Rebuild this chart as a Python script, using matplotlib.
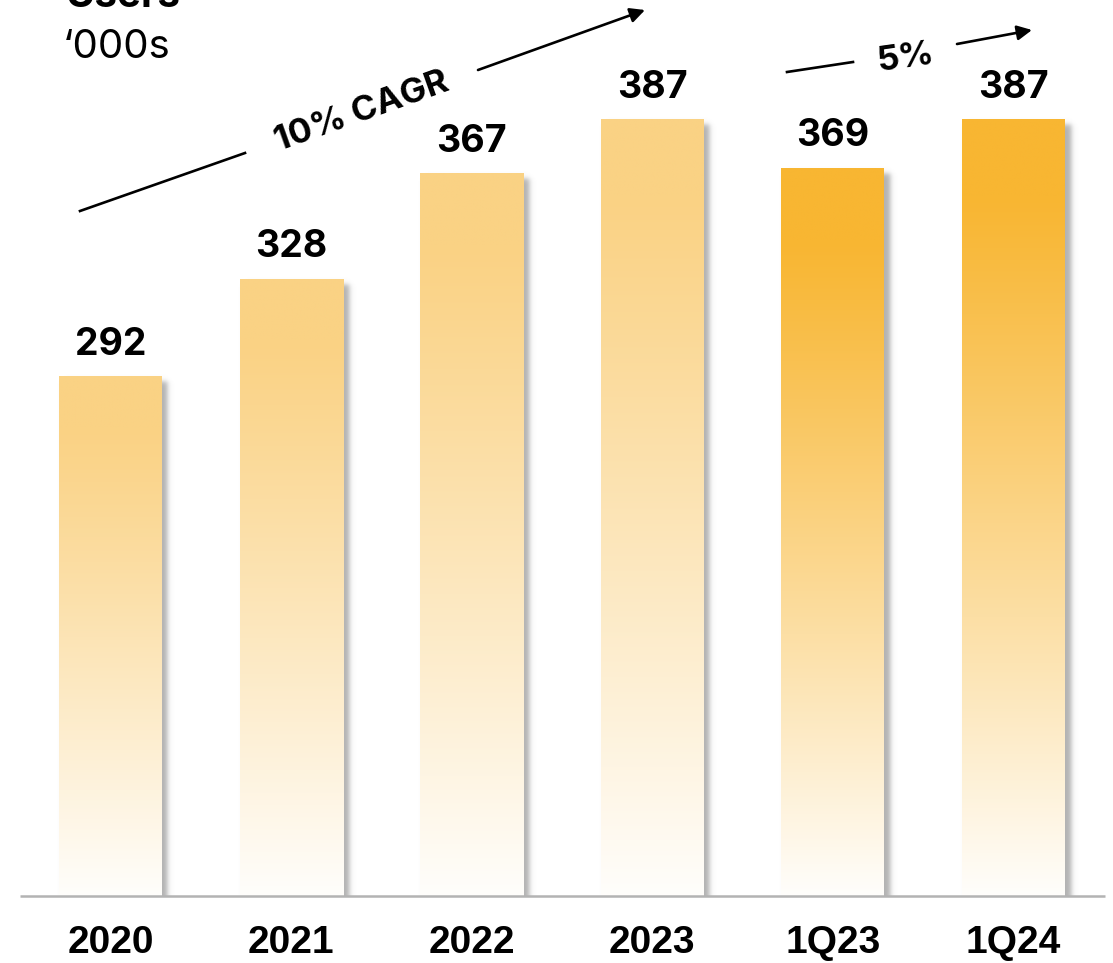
import numpy as np
import matplotlib
matplotlib.use("Agg")
import matplotlib.pyplot as plt
from matplotlib.colors import to_rgb

# Users, in thousands
categories = ["2020", "2021", "2022", "2023", "1Q23", "1Q24"]
values = [292, 328, 367, 387, 369, 387]
is_quarter = [False, False, False, False, True, True]
cagr_label = "10% CAGR"
qoq_label = "5%"

W, H, DPI = 1113, 963, 100
fig = plt.figure(figsize=(W / DPI, H / DPI), dpi=DPI)
fig.patch.set_facecolor("white")

SANS = ["Inter", "Liberation Sans", "DejaVu Sans"]

# axes layout (pixels): baseline at y=896, bar pitch ~180.6 px
base_px = 896
pitch = 180.6
first_center = 110.5
ax = fig.add_axes([0, (H - base_px) / H, 1, base_px / H])
px_per_unit = 2.705
y0 = 100
ax.set_xlim(-first_center / pitch, (W - first_center) / pitch)
ax.set_ylim(y0, y0 + base_px / px_per_unit)
ax.axis("off")

bar_w = 103 / pitch
dx = 1 / pitch          # one pixel in x data units
dy = 1 / px_per_unit    # one pixel in y data units

year_top = np.array(to_rgb("#FAD284"))
quarter_top = np.array(to_rgb("#F8B632"))
bottom_col = np.array([1.0, 0.995, 0.985])


def smooth_step(t):
    return 0.5 * (1 + np.tanh(t))


for i, (v, q) in enumerate(zip(values, is_quarter)):
    x0, x1 = i - bar_w / 2, i + bar_w / 2

    # soft drop shadow to the right / below
    pad = 18
    nx, ny = int(103 + 2 * pad), int((v - y0) / dy + 2 * pad)
    xs = np.arange(nx) - pad
    ys = np.arange(ny) - pad  # from top of bar downward
    off, s = 5, 3.0
    ax_x = smooth_step((xs - off) / s) * smooth_step((103 + off - xs) / s)
    bar_h = (v - y0) / dy
    ax_y = smooth_step((ys - off) / s) * smooth_step((bar_h + 3 - ys) / 2.0)
    alpha = np.outer(ax_y, ax_x) * 0.55
    shadow = np.zeros((ny, nx, 4))
    shadow[..., :3] = 0.45
    shadow[..., 3] = alpha
    ax.imshow(shadow, extent=(x0 - pad * dx, x0 + (nx - pad) * dx,
                              v - (ny - pad) * dy, v + pad * dy),
              origin="upper", aspect="auto", zorder=1, interpolation="bilinear")

    # vertical gradient fill
    top = quarter_top if q else year_top
    t = np.linspace(0, 1, 256)
    f = np.clip((t - 0.1) / 0.9, 0, 1) ** 1.1
    cols = top[None, :] * (1 - f[:, None]) + bottom_col[None, :] * f[:, None]
    grad = cols[:, None, :]
    ax.imshow(grad, extent=(x0, x1, y0, v), origin="upper", aspect="auto",
              zorder=2, interpolation="bilinear")

    # value label
    ax.annotate(f"{v}", xy=(i, v), xytext=(0, 23), textcoords="offset points",
                ha="center", va="center", fontsize=27, fontweight="bold",
                family=SANS, zorder=5)

    # category label
    ax.text(i, (base_px - 943) / base_px, categories[i],
            transform=ax.get_xaxis_transform(), ha="center", va="center",
            fontsize=28, fontweight="bold",
            family=["Liberation Sans Narrow", "Liberation Sans", "DejaVu Sans"],
            clip_on=False)

# baseline
ax.plot([(20 - first_center) / pitch, (1105 - first_center) / pitch], [y0, y0],
        color="#B3B3B3", lw=1.8, zorder=3, clip_on=False, solid_capstyle="butt")


def px(xp, yp):
    return ((xp - first_center) / pitch, y0 + (base_px - yp) / px_per_unit)


line_kw = dict(color="black", lw=1.9)
arrow_kw = dict(arrowstyle="-|>", color="black", lw=1.9, mutation_scale=22,
                shrinkA=0, shrinkB=0)

# CAGR arrow across the annual bars
a, b = px(80, 211), px(245, 153)
ax.plot([a[0], b[0]], [a[1], b[1]], **line_kw, zorder=4)
ax.annotate("", xy=px(645, 10), xytext=px(478, 70), arrowprops=arrow_kw,
            annotation_clip=False)
ax.text(*px(362, 112), cagr_label, rotation=19.6, ha="center", va="center",
        rotation_mode="anchor", fontsize=25, fontweight="bold", family=SANS)

# quarter-over-quarter arrow
a, b = px(787, 72), px(853, 62)
ax.plot([a[0], b[0]], [a[1], b[1]], **line_kw, zorder=4)
ax.annotate("", xy=px(1032, 30), xytext=px(957, 44), arrowprops=arrow_kw,
            annotation_clip=False)
ax.text(*px(906, 58), qoq_label, rotation=8, ha="center", va="center",
        rotation_mode="anchor", fontsize=25, fontweight="bold", family=SANS)

# unit heading
fig.text(65 / W, 1 - 7 / H, "Users", ha="left", va="baseline", fontsize=29,
         fontweight="bold", family=SANS)
fig.text(63 / W, 1 - 58 / H, "\u2018000s", ha="left", va="baseline",
         fontsize=29, family=SANS)

fig.savefig("out.png", dpi=DPI, facecolor="white")
